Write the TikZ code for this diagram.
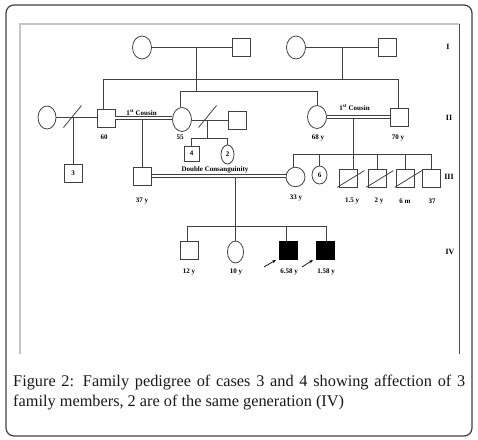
\documentclass[tikz,border=0pt]{standalone}
\usepackage{fontspec}
\setmainfont{Liberation Serif}
\usetikzlibrary{shapes.geometric,arrows.meta}
\tikzset{
  ped/.style={line width=0.8pt, draw=black!75},
  male/.style={rectangle, draw=black!75, line width=0.8pt, minimum size=18pt, inner sep=0pt, font=\bfseries\fontsize{7}{8}\selectfont},
  female/.style={ellipse, draw=black!75, line width=0.8pt, minimum width=19pt, minimum height=23pt, inner sep=0pt, font=\bfseries\fontsize{7}{8}\selectfont},
  affected/.style={male, fill=black, draw=black},
  lbl/.style={inner sep=0pt, font=\bfseries\fontsize{7}{8}\selectfont},
  genlbl/.style={inner sep=0pt, font=\bfseries\fontsize{8}{9}\selectfont},
  dbl/.style={double=white, double distance=2.2pt, line width=0.8pt, draw=black!75},
  arr/.style={line width=0.7pt, -{Stealth[length=4pt,width=3pt]}},
  capt/.style={anchor=base west, inner sep=0pt, font=\fontsize{16.3}{20}\selectfont, text=black!90}
}
\begin{document}
\begin{tikzpicture}[x=1pt,y=-1pt]
\useasboundingbox (0,0) rectangle (478,439);
% frames
\draw[black!75, line width=1.2pt, rounded corners=8pt] (6,5) rectangle (472,436);
\draw[gray!45, line width=1.3pt] (20,354) -- (20,24) -- (459,24);
\draw[black!70, line width=0.8pt] (459,24) -- (459,354);

% generation labels
\node[genlbl] (gI) at (448,47) {I};
\node[genlbl] (gII) at (449,118) {II};
\node[genlbl] (gIII) at (449,177) {III};
\node[genlbl] (gIV) at (450,252) {IV};

% Generation I
\node[female] (i1) at (142,47.5) {};
\node[male] (i2) at (241,47.5) {};
\node[female] (i3) at (296,47.5) {};
\node[male] (i4) at (387.5,47.5) {};
\draw[ped] (i1.east) -- (i2.west);
\draw[ped] (i3.east) -- (i4.west);
\coordinate (m1) at (196.5,47.5);
\coordinate (s1) at (196.5,91.5);
\coordinate (m2) at (342.5,47.5);
\coordinate (s2) at (342.5,79.5);

% Generation II
\node[female, minimum width=18pt] (wl) at (47,117.5) {};
\node[male] (n60) at (106,118) {};
\node[female, minimum height=24pt] (n55) at (182,119.5) {};
\node[male] (h55) at (237.5,120.5) {};
\node[female] (n68) at (317,117) {};
\node[male] (n70) at (399,117) {};

\draw[ped] (m1) -- (s1);
\draw[ped] ([xshift=-1.5pt]n55.north) |- (s1) -| ([xshift=0.5pt]n68.north);
\draw[ped] (m2) -- (s2);
\draw[ped] ([xshift=-2.5pt]n60.north) |- (s2) -| ([xshift=-0.5pt]n70.north);

% left couple (divorced)
\coordinate (dv1) at (73.5,117.5);
\draw[ped] (wl.east) -- (n60.west |- wl.east);
\draw[ped] (dv1) ++(-10,10) -- ++(18,-22);
\node[male] (n3) at (73,173) {3};
\draw[ped] (dv1) -- (dv1 |- n3.north);

% 60 x 55 first cousins
\draw[dbl] (n60.east) -- (n55.west |- n60.east);
\node[lbl] (c1) at (141.5,113) {1\textsuperscript{st} Cousin};
\node[lbl] (l60) at (104,137.5) {60};
\node[lbl] (l55) at (180,137.5) {55};

% 55 second partner (divorced)
\coordinate (dv2) at (207.5,120.5);
\draw[ped] (n55.east |- h55.west) -- (h55.west);
\draw[ped] (dv2) ++(-9,7) -- ++(18,-22);
\coordinate (s3) at (207.5,138.5);
\node[male, minimum size=15pt] (n4) at (191.5,153.5) {4};
\node[female, minimum width=13pt, minimum height=19pt] (n2c) at (227.5,154.5) {2};
\draw[ped] (dv2) -- (s3);
\draw[ped] (n4.north) |- (s3) -| (n2c.north);

% 68 x 70 first cousins
\draw[dbl] (n68.east) -- (n70.west);
\node[lbl] (c2) at (354.5,108) {1\textsuperscript{st} Cousin};
\node[lbl] (l68) at (318,137.5) {68 y};
\node[lbl] (l70) at (398,137.5) {70 y};

% Generation III
\coordinate (d1) at (142.5,119.5);
\node[male] (n37y) at (142.5,176) {};
\draw[ped] (d1) -- (n37y.north);
\node[lbl] (l37y) at (142,201) {37 y};

\coordinate (d2) at (353.5,118.5);
\coordinate (s4) at (353.5,154.5);
\node[female, minimum height=19.5pt] (n33) at (295.5,177) {};
\node[female, minimum width=15pt, minimum height=18pt] (n6) at (319.5,175) {6};
\node[male] (n15) at (348,178) {};
\node[male] (n2y) at (377,178) {};
\node[male] (n6m) at (405.5,178) {};
\node[male] (n37) at (431.5,178) {};
\draw[ped] (d2) -- (s4);
\draw[ped] ([xshift=-2pt]n33.north) |- (s4) -| (n37.north);
\draw[ped] (s4) -- (s4 |- n15.north);
\draw[ped] (n6.north) -- (n6.north |- s4);
\draw[ped] (n2y.north) -- (n2y.north |- s4);
\draw[ped] (n6m.north) -- (n6m.north |- s4);
\foreach \s in {n15,n2y,n6m}{
  \draw[ped] ([xshift=-1.5pt]\s.south west) -- ([xshift=7pt,yshift=-2pt]\s.north east);
}
\node[lbl] (l33) at (296,197.5) {33 y};
\node[lbl] (l15) at (352,201) {1.5 y};
\node[lbl] (l2y) at (379,201) {2 y};
\node[lbl] (l6m) at (405,201) {6 m};
\node[lbl] (l37) at (432,201) {37};

% double consanguinity
\draw[dbl] (n37y.east) -- (n33.west |- n37y.east);
\node[lbl] (dc) at (215,170) {Double Consanguinity};

% Generation IV
\coordinate (d3) at (235.5,177.5);
\coordinate (s5) at (235.5,226.5);
\node[male] (n12) at (189.5,250) {};
\node[female, minimum width=16pt, minimum height=22pt] (n10) at (235.5,252) {};
\node[affected] (n658) at (288.5,250) {};
\node[affected] (n158) at (325,250) {};
\draw[ped] (d3) -- (n10.north);
\draw[ped] ([xshift=-2pt]n12.north) |- (s5) -| ([xshift=1.5pt]n158.north);
\draw[ped] ([xshift=-2pt]n658.north) -- ([xshift=-2pt]n658.north |- s5);
\node[lbl] (l12) at (189,271.5) {12 y};
\node[lbl] (l10) at (236,271.5) {10 y};
\node[lbl] (l658) at (289,271.5) {6.58 y};
\node[lbl] (l158) at (326,271.5) {1.58 y};
\draw[arr] ([shift={(-24.5,17)}]n658.center) -- ([shift={(-12.5,10)}]n658.center);
\draw[arr] ([shift={(-23,17)}]n158.center) -- ([shift={(-12,10)}]n158.center);

% caption
\node[capt] (cap1) at (13,386) {\makebox[452pt][s]{Figure 2: Family pedigree of cases 3 and 4 showing affection of 3}};
\node[capt] (cap2) at (13,406) {family members, 2 are of the same generation (IV)};
\end{tikzpicture}
\end{document}
